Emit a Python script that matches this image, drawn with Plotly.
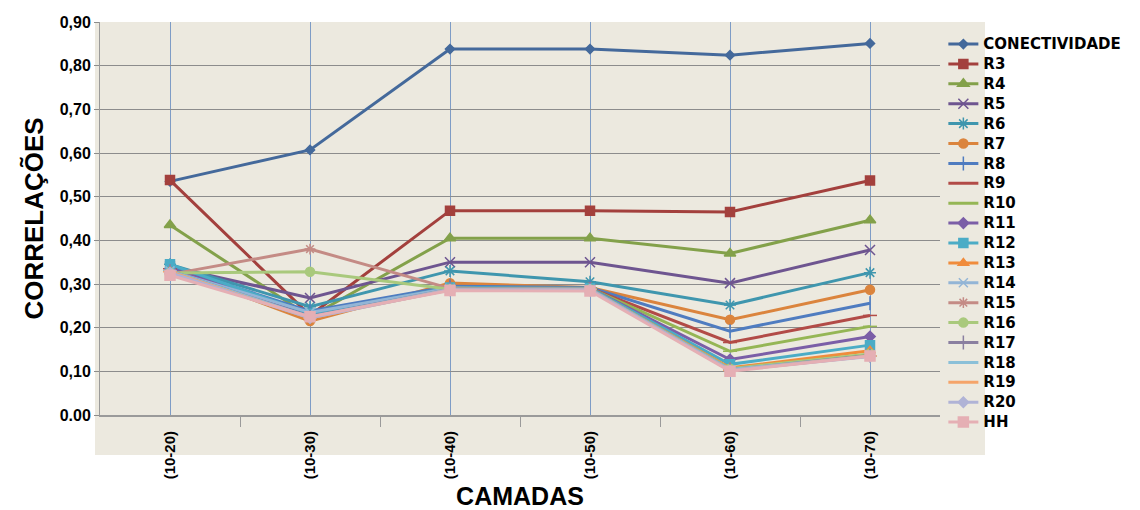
import plotly.graph_objects as go

camadas = ["(10-20)", "(10-30)", "(10-40)", "(10-50)", "(10-60)", "(10-70)"]

conectividade = [0.535, 0.607, 0.838, 0.838, 0.824, 0.851]
r3 = [0.538, 0.228, 0.468, 0.468, 0.465, 0.537]
r4 = [0.435, 0.225, 0.405, 0.405, 0.370, 0.446]
r5 = [0.340, 0.268, 0.350, 0.350, 0.302, 0.378]
r6 = [0.345, 0.248, 0.330, 0.305, 0.252, 0.326]
r7 = [0.335, 0.215, 0.302, 0.292, 0.218, 0.287]
r8 = [0.340, 0.238, 0.295, 0.292, 0.192, 0.256]
r9 = [0.335, 0.228, 0.292, 0.290, 0.166, 0.228]
r10 = [0.330, 0.226, 0.290, 0.290, 0.146, 0.203]
r11 = [0.335, 0.230, 0.292, 0.290, 0.127, 0.180]
r12 = [0.345, 0.232, 0.292, 0.290, 0.116, 0.160]
r13 = [0.330, 0.222, 0.290, 0.288, 0.108, 0.147]
r14 = [0.330, 0.235, 0.290, 0.288, 0.104, 0.138]
r15 = [0.322, 0.380, 0.290, 0.288, 0.104, 0.136]
r16 = [0.325, 0.328, 0.288, 0.288, 0.106, 0.140]
r17 = [0.330, 0.225, 0.288, 0.288, 0.104, 0.136]
r18 = [0.330, 0.224, 0.288, 0.288, 0.104, 0.135]
r19 = [0.328, 0.222, 0.287, 0.287, 0.102, 0.135]
r20 = [0.326, 0.222, 0.287, 0.287, 0.102, 0.134]
hh = [0.320, 0.225, 0.285, 0.284, 0.100, 0.135]

y_ticks = [0.0, 0.1, 0.2, 0.3, 0.4, 0.5, 0.6, 0.7, 0.8, 0.9]
y_ticktext = ["0.00", "0,10", "0,20", "0,30", "0,40", "0,50", "0,60", "0,70", "0,80", "0,90"]

# name, values, colour, marker symbol, marker size
series = [
    ("CONECTIVIDADE", conectividade, "#44699B", "diamond", 7),
    ("R3", r3, "#A3403D", "square", 9),
    ("R4", r4, "#83A14A", "triangle-up", 10),
    ("R5", r5, "#6E5590", "x-thin-open", 10),
    ("R6", r6, "#3F96AE", "asterisk-open", 10),
    ("R7", r7, "#DB843D", "circle", 9),
    ("R8", r8, "#4F7CC0", "line-ns-open", 10),
    ("R9", r9, "#B24B47", "line-ew-open", 10),
    ("R10", r10, "#95B655", "line-ew-open", 10),
    ("R11", r11, "#7B5EA7", "diamond", 8),
    ("R12", r12, "#4BACC6", "square", 9),
    ("R13", r13, "#F08C3C", "triangle-up", 9),
    ("R14", r14, "#93B5D6", "x-thin-open", 9),
    ("R15", r15, "#C48B85", "asterisk-open", 9),
    ("R16", r16, "#A9C97C", "circle", 9),
    ("R17", r17, "#8A7FA0", "line-ns-open", 10),
    ("R18", r18, "#8BC0D8", "line-ew-open", 10),
    ("R19", r19, "#F5A46A", "line-ew-open", 10),
    ("R20", r20, "#B0B3D6", "diamond", 8),
    ("HH", hh, "#E5AFB4", "square", 10),
]

fig = go.Figure()
for name, vals, color, symbol, size in series:
    fig.add_trace(go.Scatter(
        x=list(range(len(camadas))),
        y=vals,
        # bigger glyphs than the legend font so rows keep the tight spacing
        name="<span style='font-size:15px'>%s</span>" % name,
        mode="lines+markers",
        line=dict(color=color, width=3),
        marker=dict(symbol=symbol, size=size, color=color,
                    line=dict(color=color, width=1.5)),
    ))

beige = "#ECE9DF"

# page body has an 8px margin, so the figure is drawn 8px smaller
fig.update_layout(
    width=1132,
    height=502,
    margin=dict(l=92, r=200, t=14, b=95, autoexpand=False),
    paper_bgcolor="white",
    plot_bgcolor=beige,
    font=dict(family="Liberation Sans, Arial", color="black"),
    showlegend=True,
    legend=dict(
        x=1.004, xanchor="left",
        y=0.982, yanchor="top",
        bgcolor="rgba(0,0,0,0)",
        font=dict(size=13, color="black", family="DejaVu Sans", weight="bold"),
        tracegroupgap=0,
        itemwidth=30,
        maxheight=480,
    ),
    shapes=[dict(
        type="rect", xref="paper", yref="paper", layer="below",
        x0=-5 / 840, x1=1 + 45 / 840, y0=-40 / 393, y1=1,
        fillcolor=beige, line=dict(width=0),
    )],
)

fig.update_xaxes(
    range=[-0.5, 5.5],
    tickvals=list(range(len(camadas))),
    ticktext=["<b>%s</b>" % c for c in camadas],
    tickangle=-90,
    tickfont=dict(size=15, color="black"),
    ticks="",
    ticklabelstandoff=8,
    showgrid=True,
    gridcolor="#7E9CC6",
    gridwidth=1,
    showline=True,
    linecolor="#9A9A9A",
    linewidth=2,
    minor=dict(tickvals=[0.5, 1.5, 2.5, 3.5, 4.5], ticks="outside",
               ticklen=10, tickcolor="#9A9A9A", showgrid=False),
    zeroline=False,
    automargin=False,
    title=dict(text="<b>CAMADAS</b>", font=dict(size=25, color="black"), standoff=10),
)

fig.update_yaxes(
    range=[0, 0.9],
    tickvals=y_ticks,
    ticktext=["<b>%s</b>" % t for t in y_ticktext],
    tickfont=dict(size=16, color="black"),
    ticks="outside",
    ticklen=5,
    tickcolor="#8C8C8C",
    showgrid=True,
    gridcolor="#8C8C8C",
    gridwidth=1,
    showline=True,
    linecolor="#9A9A9A",
    linewidth=1,
    zeroline=False,
    automargin=False,
    title=dict(text="<b>CORRELAÇÕES</b>", font=dict(size=26, color="black"), standoff=8),
)

fig.write_html("out.html")
